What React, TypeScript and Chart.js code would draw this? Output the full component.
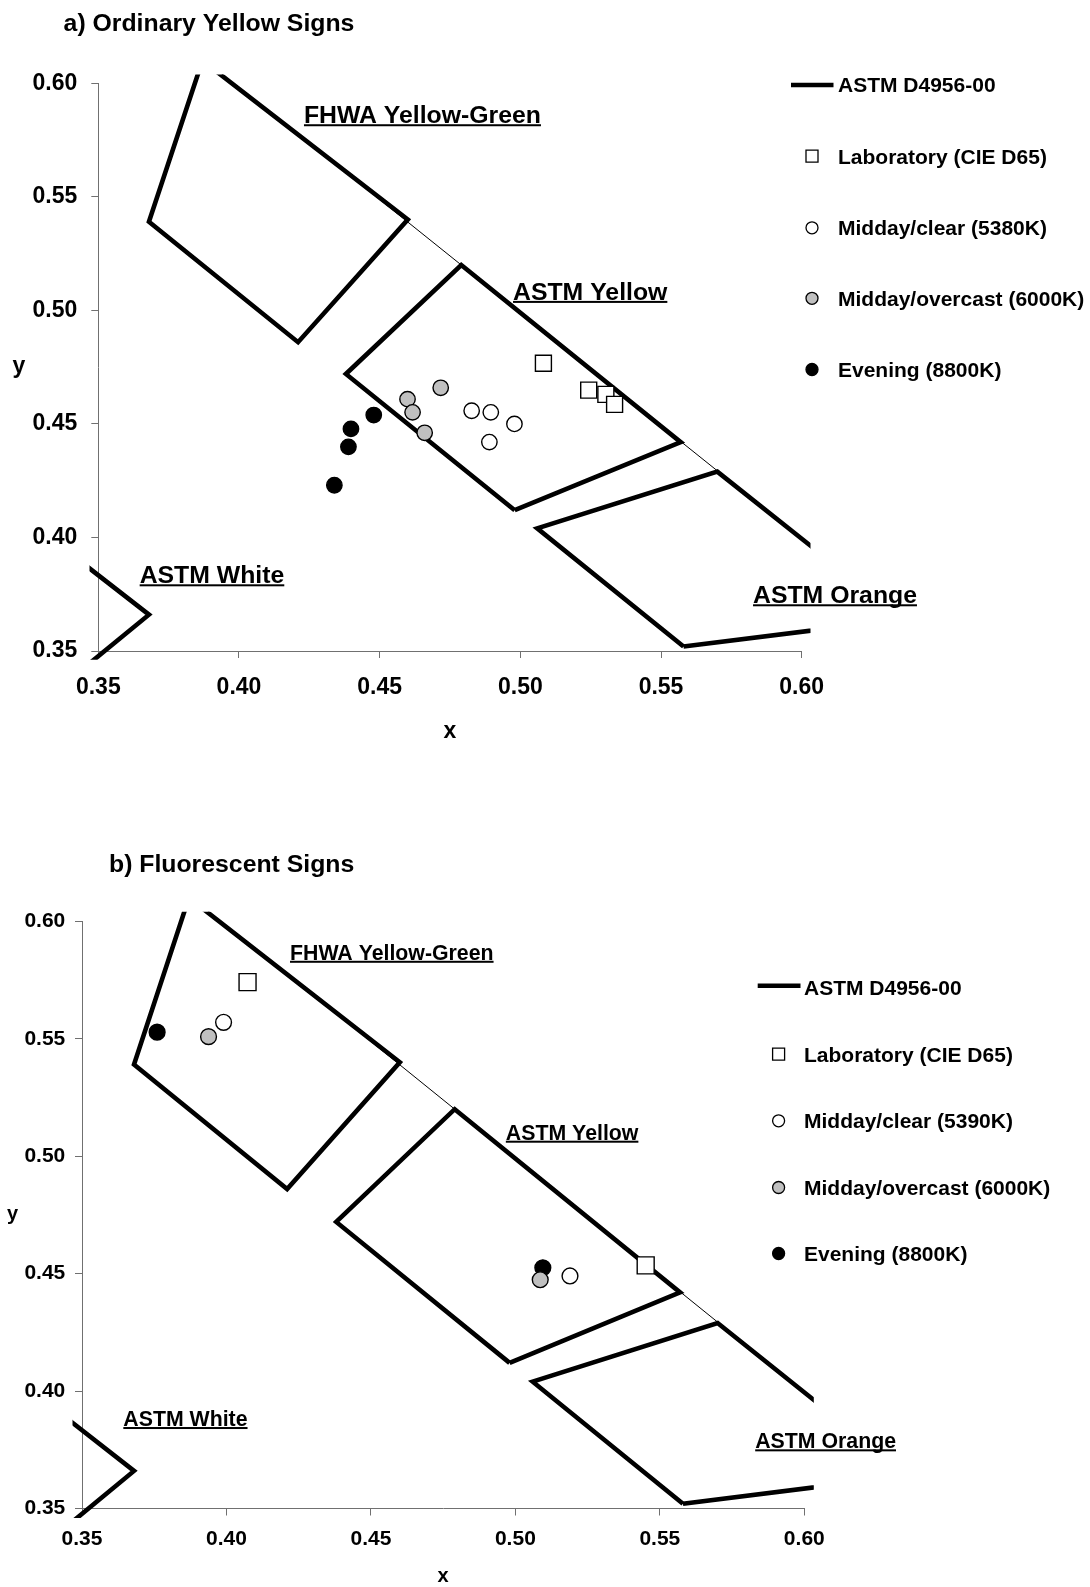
import React, { useEffect, useRef } from "react";
import { Chart, registerables } from "chart.js";

Chart.register(...registerables);

const FONT = '"Liberation Sans", Arial, Helvetica, sans-serif';

// ---------------- data ----------------
const AXIS_TICKS = [0.35, 0.4, 0.45, 0.5, 0.55, 0.6];

// ASTM D4956-00 daytime chromaticity boundaries (closed polygons)
const ASTM_WHITE_X = [0.303, 0.368, 0.34, 0.274, 0.303];
const ASTM_WHITE_Y = [0.3, 0.366, 0.393, 0.329, 0.3];
const ASTM_YELLOW_X = [0.498, 0.557, 0.479, 0.438, 0.498];
const ASTM_YELLOW_Y = [0.412, 0.442, 0.52, 0.472, 0.412];
const ASTM_ORANGE_X = [0.558, 0.636, 0.57, 0.506, 0.558];
const ASTM_ORANGE_Y = [0.352, 0.364, 0.429, 0.404, 0.352];
const FHWA_YG_X = [0.387, 0.46, 0.421, 0.368, 0.387];
const FHWA_YG_Y = [0.61, 0.54, 0.486, 0.539, 0.61];

// CIE 1931 spectrum locus, 560-600 nm (thin line)
const LOCUS_X = [0.3731, 0.4087, 0.4441, 0.4788, 0.5125, 0.5448, 0.5752, 0.6029, 0.627];
const LOCUS_Y = [0.6245, 0.5896, 0.5547, 0.5202, 0.4866, 0.4544, 0.4242, 0.3965, 0.3725];

// a) Ordinary Yellow Signs
const A_LAB_X = [0.5082, 0.5243, 0.5304, 0.5335];
const A_LAB_Y = [0.4767, 0.4649, 0.463, 0.4586];
const A_CLEAR_X = [0.4827, 0.4895, 0.489, 0.4979];
const A_CLEAR_Y = [0.4558, 0.4551, 0.442, 0.45];
const A_OVERCAST_X = [0.4599, 0.4617, 0.466, 0.4717];
const A_OVERCAST_Y = [0.4609, 0.4551, 0.4461, 0.4659];
const A_EVENING_X = [0.4339, 0.4389, 0.4398, 0.4479];
const A_EVENING_Y = [0.423, 0.4399, 0.4478, 0.4539];

// b) Fluorescent Signs
const B_LAB_X = [0.4073, 0.5451];
const B_LAB_Y = [0.5741, 0.4535];
const B_CLEAR_X = [0.399, 0.5189];
const B_CLEAR_Y = [0.557, 0.449];
const B_OVERCAST_X = [0.3938, 0.5086];
const B_OVERCAST_Y = [0.5509, 0.4474];
const B_EVENING_X = [0.376, 0.5095];
const B_EVENING_Y = [0.5528, 0.4525];

const A_TITLE = "a) Ordinary Yellow Signs";
const B_TITLE = "b) Fluorescent Signs";
const A_LEGEND = ["ASTM D4956-00", "Laboratory (CIE D65)", "Midday/clear (5380K)", "Midday/overcast (6000K)", "Evening (8800K)"];
const B_LEGEND = ["ASTM D4956-00", "Laboratory (CIE D65)", "Midday/clear (5390K)", "Midday/overcast (6000K)", "Evening (8800K)"];
const REGION_NAMES = ["FHWA Yellow-Green", "ASTM Yellow", "ASTM White", "ASTM Orange"];

// ---------------- helpers ----------------
const pts = (xs: number[], ys: number[]) => xs.map((x, i) => ({ x, y: ys[i] }));

type Panel = {
  top: number;
  width: number;
  height: number;
  padding: { left: number; top: number; right: number; bottom: number };
  yAxisWidth: number;
  xAxisHeight: number;
  tickSize: number;
  xTickPad: number;
  yTickPad: number;
  circleR: number;
  rectR: number;
  clip: number;
  title: string;
  titleX: number;
  titleY: number;
  titleSize: number;
  regionSize: number;
  regionAnchors: { x: number; y: number }[];
  axisTitleSize: number;
  xTitleY: number;
  yTitleX: number;
  yTitleY: number;
  legend: string[];
  legendSize: number;
  legendYs: number[];
  legendLineX0: number;
  legendLineX1: number;
  legendLineDy: number;
  legendMarkerX: number;
  legendTextX: number;
  series: { lab: any[]; clear: any[]; overcast: any[]; evening: any[] };
};

const PANEL_A: Panel = {
  top: 0,
  width: 1090,
  height: 790,
  padding: { left: 0, top: 83.3, right: 288.3, bottom: 39 },
  yAxisWidth: 98.3,
  xAxisHeight: 100,
  tickSize: 23,
  xTickPad: 16,
  yTickPad: 14,
  circleR: 7.7,
  rectR: 11.3,
  clip: 8.8,
  title: A_TITLE,
  titleX: 63.6,
  titleY: 31,
  titleSize: 24.8,
  regionSize: 24.8,
  regionAnchors: [
    { x: 0.4231, y: 0.5825 },
    { x: 0.4974, y: 0.5047 },
    { x: 0.3647, y: 0.3799 },
    { x: 0.5827, y: 0.3711 },
  ],
  axisTitleSize: 23,
  xTitleY: 738,
  yTitleX: 19,
  yTitleY: 373,
  legend: A_LEGEND,
  legendSize: 21,
  legendYs: [84.5, 156.2, 227.8, 298.3, 369.5],
  legendLineX0: 791,
  legendLineX1: 833.5,
  legendLineDy: 0.5,
  legendMarkerX: 812,
  legendTextX: 838,
  series: {
    lab: pts(A_LAB_X, A_LAB_Y),
    clear: pts(A_CLEAR_X, A_CLEAR_Y),
    overcast: pts(A_OVERCAST_X, A_OVERCAST_Y),
    evening: pts(A_EVENING_X, A_EVENING_Y),
  },
};

const PANEL_B: Panel = {
  top: 800,
  width: 1090,
  height: 787,
  padding: { left: 0, top: 121.3, right: 285.7, bottom: 0 },
  yAxisWidth: 82,
  xAxisHeight: 78.5,
  tickSize: 21,
  xTickPad: 10.7,
  yTickPad: 9.7,
  circleR: 7.9,
  rectR: 12,
  clip: 9.5,
  title: B_TITLE,
  titleX: 109,
  titleY: 72.3,
  titleSize: 24.8,
  regionSize: 21.3,
  regionAnchors: [
    { x: 0.422, y: 0.5837 },
    { x: 0.4967, y: 0.5071 },
    { x: 0.3643, y: 0.3852 },
    { x: 0.583, y: 0.3757 },
  ],
  axisTitleSize: 20,
  xTitleY: 782,
  yTitleX: 12.5,
  yTitleY: 420.4,
  legend: B_LEGEND,
  legendSize: 21,
  legendYs: [187.5, 254.2, 320.8, 387.5, 453.5],
  legendLineX0: 757.7,
  legendLineX1: 800.5,
  legendLineDy: -1.8,
  legendMarkerX: 778.6,
  legendTextX: 804,
  series: {
    lab: pts(B_LAB_X, B_LAB_Y),
    clear: pts(B_CLEAR_X, B_CLEAR_Y),
    overcast: pts(B_OVERCAST_X, B_OVERCAST_Y),
    evening: pts(B_EVENING_X, B_EVENING_Y),
  },
};

const MARKERS = [
  { kind: "line", fill: "#000" },
  { kind: "rect", fill: "#ffffff" },
  { kind: "circle", fill: "#ffffff" },
  { kind: "circle", fill: "#c0c0c0" },
  { kind: "circle", fill: "#000000" },
];

function makeOverlay(p: Panel) {
  return {
    id: "overlay",
    afterDraw(chart: any) {
      const ctx: CanvasRenderingContext2D = chart.ctx;
      const xs = chart.scales.x;
      const ys = chart.scales.y;
      const area = chart.chartArea;
      ctx.save();
      ctx.fillStyle = "#000";
      ctx.strokeStyle = "#000";
      ctx.textAlign = "left";
      ctx.textBaseline = "alphabetic";

      // title
      ctx.font = `bold ${p.titleSize}px ${FONT}`;
      ctx.fillText(p.title, p.titleX, p.titleY);

      // region labels (underlined)
      ctx.font = `bold ${p.regionSize}px ${FONT}`;
      REGION_NAMES.forEach((name, i) => {
        const a = p.regionAnchors[i];
        const px = xs.getPixelForValue(a.x);
        const py = ys.getPixelForValue(a.y);
        ctx.fillText(name, px, py);
        const w = ctx.measureText(name).width;
        ctx.fillRect(px, py + 1.2, w, 2);
      });

      // axis titles
      ctx.font = `bold ${p.axisTitleSize}px ${FONT}`;
      ctx.textAlign = "center";
      ctx.fillText("x", (area.left + area.right) / 2, p.xTitleY);
      ctx.fillText("y", p.yTitleX, p.yTitleY);

      // legend
      ctx.textAlign = "left";
      ctx.font = `bold ${p.legendSize}px ${FONT}`;
      p.legend.forEach((label, i) => {
        const cy = p.legendYs[i];
        const m = MARKERS[i];
        if (m.kind === "line") {
          ctx.lineWidth = 4.5;
          ctx.lineCap = "butt";
          ctx.beginPath();
          ctx.moveTo(p.legendLineX0, cy + p.legendLineDy);
          ctx.lineTo(p.legendLineX1, cy + p.legendLineDy);
          ctx.stroke();
        } else {
          ctx.lineWidth = 1.3;
          ctx.fillStyle = m.fill;
          ctx.beginPath();
          if (m.kind === "rect") ctx.rect(p.legendMarkerX - 6, cy - 6, 12, 12);
          else ctx.arc(p.legendMarkerX, cy, 6, 0, Math.PI * 2);
          ctx.fill();
          ctx.stroke();
          ctx.fillStyle = "#000";
        }
        ctx.fillText(label, p.legendTextX, cy + p.legendSize * 0.358);
      });
      ctx.restore();
    },
  };
}

function buildConfig(p: Panel): any {
  const clip = { left: p.clip, top: p.clip, right: p.clip, bottom: p.clip };
  const polygon = (label: string, xs: number[], ys: number[]) => ({
    label,
    data: pts(xs, ys),
    showLine: true,
    borderColor: "#000",
    borderWidth: 4.6,
    borderJoinStyle: "miter",
    borderCapStyle: "butt",
    pointRadius: 0,
    pointHoverRadius: 0,
    fill: false,
    tension: 0,
    clip,
  });
  const scatter = (label: string, data: any[], style: string, r: number, fillColor: string) => ({
    label,
    data,
    showLine: false,
    pointStyle: style,
    pointRadius: r,
    pointHoverRadius: r,
    backgroundColor: fillColor,
    borderColor: "#000",
    borderWidth: 1.4,
  });

  const tickFont = { family: FONT, size: p.tickSize, weight: "bold" as const };
  const axisCommon = {
    type: "linear",
    min: 0.35,
    max: 0.6,
    afterBuildTicks: (s: any) => {
      s.ticks = AXIS_TICKS.map((v) => ({ value: v }));
    },
    grid: { drawOnChartArea: false, drawTicks: true, tickLength: 7, color: "#707070", lineWidth: 1 },
    border: { display: true, color: "#707070", width: 1 },
  };

  return {
    type: "scatter",
    data: {
      datasets: [
        scatter(p.legend[1], p.series.lab, "rect", p.rectR, "#ffffff"),
        scatter(p.legend[2], p.series.clear, "circle", p.circleR, "#ffffff"),
        scatter(p.legend[3], p.series.overcast, "circle", p.circleR, "#c0c0c0"),
        scatter(p.legend[4], p.series.evening, "circle", p.circleR, "#000000"),
        polygon("ASTM Yellow", ASTM_YELLOW_X, ASTM_YELLOW_Y),
        polygon("ASTM White", ASTM_WHITE_X, ASTM_WHITE_Y),
        polygon("ASTM Orange", ASTM_ORANGE_X, ASTM_ORANGE_Y),
        polygon("FHWA Yellow-Green", FHWA_YG_X, FHWA_YG_Y),
        {
          label: "Spectrum locus",
          data: pts(LOCUS_X, LOCUS_Y),
          showLine: true,
          borderColor: "#000",
          borderWidth: 1,
          pointRadius: 0,
          pointHoverRadius: 0,
          fill: false,
          tension: 0,
          clip,
        },
      ],
    },
    options: {
      responsive: false,
      maintainAspectRatio: false,
      animation: false,
      devicePixelRatio: 1,
      events: [],
      layout: { padding: p.padding },
      plugins: {
        legend: { display: false },
        title: { display: false },
        tooltip: { enabled: false },
      },
      scales: {
        x: {
          ...axisCommon,
          position: "bottom",
          afterFit: (s: any) => {
            s.height = p.xAxisHeight;
          },
          ticks: {
            font: tickFont,
            color: "#000",
            padding: p.xTickPad,
            maxRotation: 0,
            autoSkip: false,
            callback: (v: any) => Number(v).toFixed(2),
          },
        },
        y: {
          ...axisCommon,
          position: "left",
          afterFit: (s: any) => {
            s.width = p.yAxisWidth;
          },
          ticks: {
            font: tickFont,
            color: "#000",
            padding: p.yTickPad,
            autoSkip: false,
            callback: (v: any) => Number(v).toFixed(2),
          },
        },
      },
    },
    plugins: [makeOverlay(p)],
  };
}

function PanelChart({ panel }: { panel: Panel }) {
  const ref = useRef<HTMLCanvasElement | null>(null);
  useEffect(() => {
    if (!ref.current) return;
    const chart = new Chart(ref.current, buildConfig(panel));
    return () => chart.destroy();
  }, [panel]);
  return (
    <canvas
      ref={ref}
      width={panel.width}
      height={panel.height}
      style={{ position: "absolute", left: 0, top: panel.top, width: panel.width, height: panel.height }}
    />
  );
}

export default function App() {
  return (
    <div style={{ position: "absolute", left: 0, top: 0, width: 1090, height: 1587, background: "#fff", overflow: "hidden" }}>
      <PanelChart panel={PANEL_A} />
      <PanelChart panel={PANEL_B} />
    </div>
  );
}
